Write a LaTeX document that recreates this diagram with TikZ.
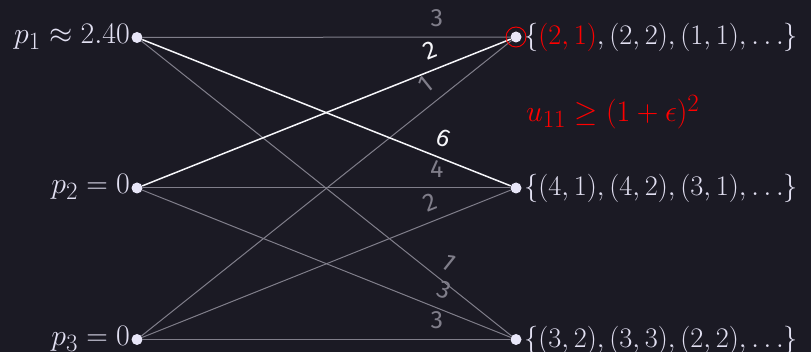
\documentclass[tikz,border=0pt]{standalone}
\usepackage{fontspec}
\usepackage{graphicx}
\newfontfamily\labfont{Fira Sans}
\definecolor{bg}{RGB}{27,26,36}
\definecolor{fg}{RGB}{226,224,242}
\definecolor{dotc}{RGB}{232,230,248}
\definecolor{edgegray}{RGB}{128,126,138}
\definecolor{hl}{RGB}{246,246,250}
\definecolor{redc}{RGB}{255,0,0}
\begin{document}
\begin{tikzpicture}[x=1pt,y=-1pt,
  dotnode/.style={circle,fill=dotc,inner sep=0pt,minimum size=11pt},
  plainedge/.style={draw=edgegray,line width=1pt},
  hotedge/.style={draw=hl,line width=1.5pt},
  elab/.style={font=\labfont\fontsize{25}{30}\selectfont,sloped,above=9pt,inner sep=1pt,pos=0.8},
  glab/.style={elab,text=edgegray},
  wlab/.style={elab,text=hl},
  mtext/.style={inner sep=0pt,text=fg,font=\fontsize{24.88}{30}\selectfont}
]
\fill[bg] (0,0) rectangle (811,352);
\useasboundingbox (0,0) rectangle (811,352);

\node[dotnode] (p1) at (137,37.5) {};
\node[dotnode] (p2) at (137,188) {};
\node[dotnode] (p3) at (137,339.5) {};
\node[dotnode] (r1) at (516,37) {};
\node[dotnode] (r2) at (516,188) {};
\node[dotnode] (r3) at (516,339.5) {};

\draw[plainedge] (p1) -- node[glab]{3} (r1);
\draw[plainedge] (p1) -- node[glab]{1} (r3);
\draw[plainedge] (p2) -- node[glab]{4} (r2);
\draw[plainedge] (p2) -- node[glab]{3} (r3);
\draw[plainedge] (p3) -- node[glab]{1} (r1);
\draw[plainedge] (p3) -- node[glab]{2} (r2);
\draw[plainedge] (p3) -- node[glab]{3} (r3);
\draw[hotedge] (p1) -- node[wlab]{6} (r2);
\draw[hotedge] (p2) -- node[wlab]{2} (r1);

\node[circle,draw=redc,line width=0.9pt,minimum size=20pt,inner sep=0pt] (ring) at (r1) {};

\node[mtext,anchor=base east] (l1) at (130,43.5) {\scalebox{1.2}{$p_1\approx 2.40$}};
\node[mtext,anchor=base east] (l2) at (130,194) {\scalebox{1.2}{$p_2=0$}};
\node[mtext,anchor=base east] (l3) at (130,345.5) {\scalebox{1.2}{$p_3=0$}};

\node[mtext,anchor=base west] (s1) at (524,45) {\scalebox{1.14}{$\{\textcolor{redc}{(2,1)},(2,2),(1,1),\dots\}$}};
\node[mtext,anchor=base west] (s2) at (524,196) {\scalebox{1.14}{$\{(4,1),(4,2),(3,1),\dots\}$}};
\node[mtext,anchor=base west] (s3) at (524,347.5) {\scalebox{1.14}{$\{(3,2),(3,3),(2,2),\dots\}$}};

\node[mtext,anchor=base west,text=redc] (u) at (526,122) {\scalebox{1.2}{$u_{11}\geq(1+\epsilon)^2$}};
\end{tikzpicture}
\end{document}
